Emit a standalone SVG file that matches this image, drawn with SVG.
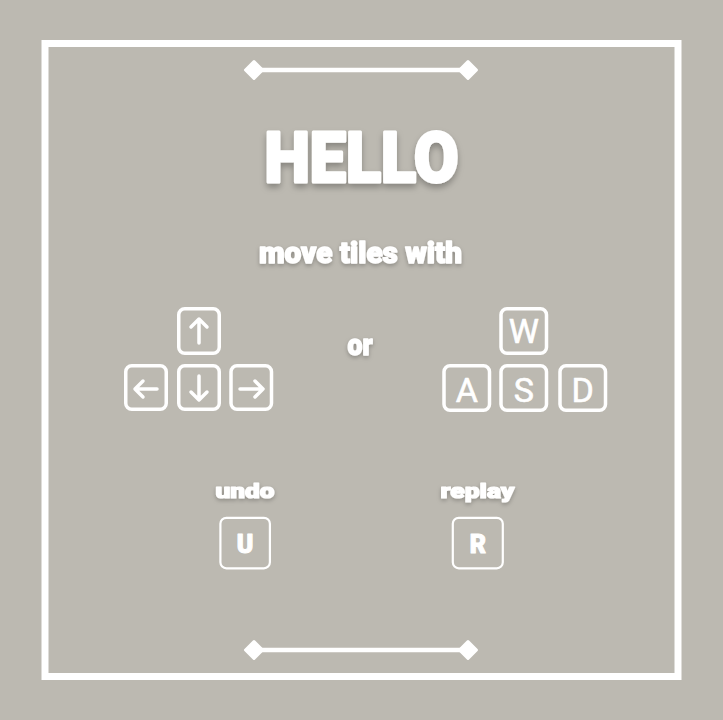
<svg xmlns="http://www.w3.org/2000/svg" width="723" height="720" viewBox="0 0 723 720">
  <defs>
    <filter id="shadow" x="-20%" y="-30%" width="140%" height="170%">
      <feDropShadow dx="0" dy="4" stdDeviation="3" flood-color="#000" flood-opacity="0.28"/>
    </filter>
    <filter id="shadowSmall" x="-20%" y="-30%" width="140%" height="170%">
      <feDropShadow dx="0" dy="2" stdDeviation="2" flood-color="#000" flood-opacity="0.25"/>
    </filter>
  </defs>
  <style>
    .bg { fill: #bcb9b1; }
    .frame { fill: none; stroke: #ffffff; stroke-width: 7; }
    .orn { stroke: #ffffff; stroke-width: 4.5; stroke-linecap: round; }
    .dia { fill: #ffffff; stroke: #ffffff; stroke-width: 3; stroke-linejoin: round; }
    .title { font-family: Roboto, "Liberation Sans", sans-serif; font-weight: 900; fill: #ffffff; stroke: #ffffff; stroke-linejoin: round; text-anchor: middle; }
    .key { fill: none; stroke: #ffffff; stroke-width: 3.5; }
    .keysm { fill: none; stroke: #ffffff; stroke-width: 2.2; }
    .arrow { fill: none; stroke: #ffffff; stroke-width: 3.5; stroke-linecap: round; stroke-linejoin: round; }
    .letter { font-family: Roboto, "Liberation Sans", sans-serif; font-weight: 400; font-size: 34px; fill: #ffffff; stroke: #ffffff; stroke-width: 0.6; stroke-linejoin: round; text-anchor: middle; }
    .kl { font-family: Roboto, "Liberation Sans", sans-serif; font-weight: 900; font-size: 25px; fill: #ffffff; stroke: #ffffff; stroke-width: 1; stroke-linejoin: round; text-anchor: middle; }
  </style>
  <rect class="bg" x="0" y="0" width="723" height="720"/>
  <rect class="frame" x="45" y="43.5" width="633" height="633"/>

  <g id="ornament-top">
    <line class="orn" x1="254" y1="70" x2="468" y2="70"/>
    <path class="dia" d="M254 61.5 L262.5 70 L254 78.5 L245.5 70 Z"/>
    <path class="dia" d="M468 61.5 L476.5 70 L468 78.5 L459.5 70 Z"/>
  </g>
  <g id="ornament-bottom">
    <line class="orn" x1="254" y1="650" x2="468" y2="650"/>
    <path class="dia" d="M254 641.5 L262.5 650 L254 658.5 L245.5 650 Z"/>
    <path class="dia" d="M468 641.5 L476.5 650 L468 658.5 L459.5 650 Z"/>
  </g>

  <g id="title" filter="url(#shadow)">
    <text class="title" x="361.5" y="182" font-size="71" stroke-width="3" textLength="194" lengthAdjust="spacingAndGlyphs">HELLO</text>
  </g>
  <g id="subtitle" filter="url(#shadowSmall)">
    <text class="title" x="360.5" y="262.5" font-size="29" stroke-width="1.4" textLength="203" lengthAdjust="spacingAndGlyphs">move tiles with</text>
  </g>
  <g id="or" filter="url(#shadowSmall)">
    <text class="title" x="360" y="355" font-size="30" stroke-width="1.4" textLength="25" lengthAdjust="spacingAndGlyphs">or</text>
  </g>

  <g id="arrow-keys">
    <g id="key-up">
      <rect class="key" x="178.75" y="308.75" width="40.5" height="44.5" rx="6"/>
      <path class="arrow" d="M199 343 V319 M191 327 L199 319 L207 327"/>
    </g>
    <g id="key-left">
      <rect class="key" x="125.75" y="365.75" width="40.5" height="43.5" rx="6"/>
      <path class="arrow" d="M157 389 H135 M143 381 L135 389 L143 397"/>
    </g>
    <g id="key-down">
      <rect class="key" x="178.75" y="365.75" width="40.5" height="43.5" rx="6"/>
      <path class="arrow" d="M199 376 V400 M191 392 L199 400 L207 392"/>
    </g>
    <g id="key-right">
      <rect class="key" x="231" y="365.75" width="40.5" height="43.5" rx="6"/>
      <path class="arrow" d="M240 389 H263 M255 381 L263 389 L255 397"/>
    </g>
  </g>

  <g id="wasd-keys">
    <g id="key-w">
      <rect class="key" x="501" y="308.75" width="45.5" height="44.5" rx="6"/>
      <text class="letter" x="523.75" y="343">W</text>
    </g>
    <g id="key-a">
      <rect class="key" x="444" y="365.75" width="45.5" height="44.5" rx="6"/>
      <text class="letter" x="466.75" y="402">A</text>
    </g>
    <g id="key-s">
      <rect class="key" x="501" y="365.75" width="45.5" height="44.5" rx="6"/>
      <text class="letter" x="523.75" y="402">S</text>
    </g>
    <g id="key-d">
      <rect class="key" x="560" y="365.75" width="45.5" height="44.5" rx="6"/>
      <text class="letter" x="582.75" y="402">D</text>
    </g>
  </g>

  <g id="undo">
    <text class="title" x="245" y="497.5" font-size="21" stroke-width="1.2" textLength="59" lengthAdjust="spacingAndGlyphs" filter="url(#shadowSmall)">undo</text>
    <rect class="keysm" x="220.4" y="517.8" width="49.5" height="50.5" rx="6"/>
    <text class="kl" x="245" y="553">U</text>
  </g>
  <g id="replay">
    <text class="title" x="477.5" y="497.5" font-size="21" stroke-width="1.2" textLength="74" lengthAdjust="spacingAndGlyphs" filter="url(#shadowSmall)">replay</text>
    <rect class="keysm" x="452.8" y="517.8" width="50" height="50.5" rx="6"/>
    <text class="kl" x="478" y="553">R</text>
  </g>
</svg>
